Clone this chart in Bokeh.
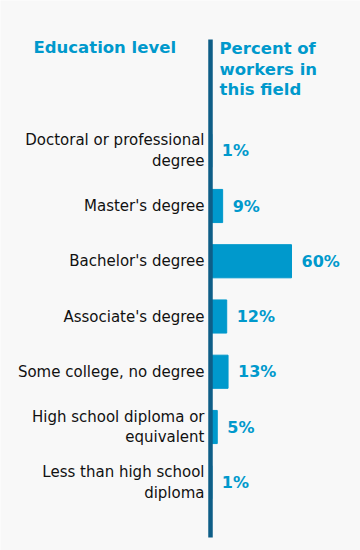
from bokeh.plotting import figure
from bokeh.models import ColumnDataSource, Range1d, Label
from bokeh.core.properties import value
from bokeh.embed import file_html
from bokeh.resources import INLINE

categories = [
    "Doctoral or professional\ndegree",
    "Master's degree",
    "Bachelor's degree",
    "Associate's degree",
    "Some college, no degree",
    "High school diploma or\nequivalent",
    "Less than high school\ndiploma",
]
percent = [1, 9, 60, 12, 13, 5, 1]
value_labels = [f"{v}%" for v in percent]
rows = list(range(len(categories)))

header_left = "Education level"
header_right = ["Percent of", "workers in", "this field"]

BG = "#f8f8f8"
BLUE = "#0099cc"
AXIS = "#0e5e87"
FONT = "DejaVu Sans"

src = ColumnDataSource(dict(y=rows, pct=percent, cat=categories, lab=value_labels))

p = figure(width=360, height=550, output_backend="svg", toolbar_location=None,
           x_axis_location=None, y_axis_location=None, min_border=0,
           x_range=Range1d(-155.56, 111.11), y_range=Range1d(7.2353, -2.7195))
p.background_fill_color = BG
p.border_fill_color = BG
p.outline_line_color = None
p.grid.visible = False

p.hbar(y="y", left=0, right="pct", height=0.6, color=BLUE, source=src)

# vertical axis line
p.segment(x0=[0], y0=[-2.0136], x1=[0], y1=[7.0], line_color=AXIS, line_width=4.5)

p.text(x=0, y="y", text="cat", source=src, x_offset=-6, text_align="right",
       text_baseline="middle", text_font=value(FONT), text_font_size="15px",
       text_color="#111111", text_line_height=1.15)

p.text(x="pct", y="y", text="lab", source=src, x_offset=10, text_align="left",
       text_baseline="middle", text_font=value(FONT), text_font_size="16px",
       text_font_style="bold", text_color=BLUE)

p.add_layout(Label(x=33, y=550 - 47, x_units="screen", y_units="screen",
                   text=header_left, text_font=FONT, text_font_size="16.5px",
                   text_font_style="bold", text_color=BLUE, text_baseline="alphabetic"))
for i, t in enumerate(header_right):
    p.add_layout(Label(x=219, y=550 - 48 - 20.5 * i, x_units="screen", y_units="screen",
                       text=t, text_font=FONT, text_font_size="16.5px",
                       text_font_style="bold", text_color=BLUE, text_baseline="alphabetic"))

open("out.html", "w").write(file_html(p, INLINE))
